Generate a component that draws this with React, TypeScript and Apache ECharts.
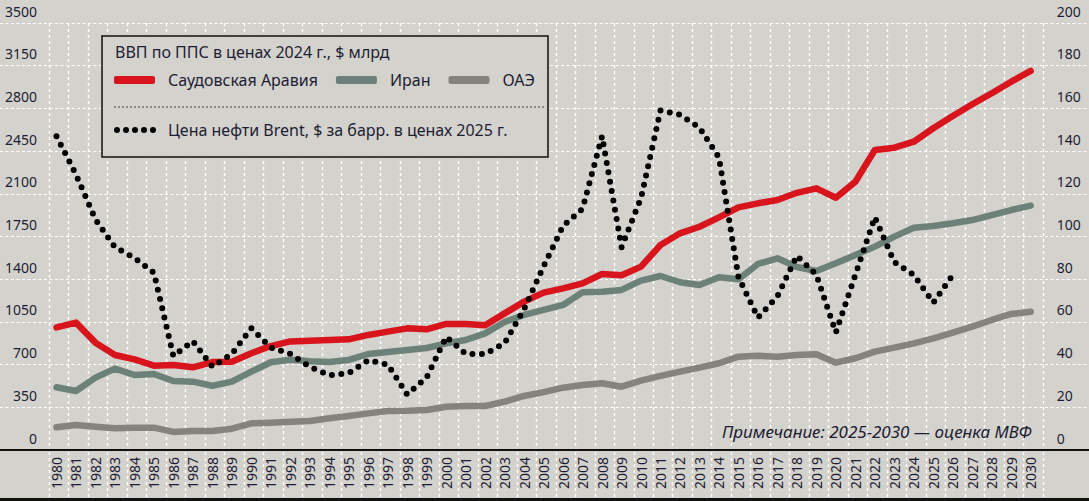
import { useEffect, useRef } from "react";
import * as echarts from "echarts";

const BG = "#d4d2cd";
const INK = "#1d1d33";
const FONT = "'Noto Sans', sans-serif";
const RED = "#d8151d";
const TEAL = "#6c8278";
const GREY = "#85837e";

const years = Array.from({ length: 51 }, (_, i) => String(1980 + i));

// ВВП по ППС, $ млрд (левая ось)
const saudi = [
    1005, 1044, 880, 779, 743, 691, 697, 678, 721, 724,
    793, 852, 890, 896, 902, 907, 943, 970, 997, 989,
    1033, 1033, 1022, 1120, 1216, 1290, 1325, 1366, 1443, 1432,
    1503, 1680, 1776, 1830, 1907, 1989, 2022, 2049, 2108, 2145,
    2068, 2199, 2459, 2478, 2527, 2637, 2738, 2834, 2924, 3019,
    3107,
];
const iran = [
    514, 484, 593, 667, 615, 623, 566, 560, 527, 560,
    642, 719, 740, 727, 721, 738, 787, 803, 820, 836,
    874, 902, 956, 1049, 1107, 1148, 1189, 1293, 1298, 1312,
    1388, 1426, 1375, 1353, 1416, 1399, 1525, 1571, 1500, 1467,
    1530, 1598, 1667, 1749, 1822, 1836, 1858, 1885, 1926, 1967,
    2003,
];
const uae = [
    186, 205, 191, 178, 183, 183, 148, 156, 156, 175,
    219, 224, 232, 238, 260, 279, 300, 320, 322, 328,
    355, 361, 361, 396, 443, 474, 511, 533, 547, 519,
    568, 607, 642, 675, 711, 765, 773, 765, 779, 784,
    716, 752, 806, 839, 874, 915, 962, 1011, 1066, 1115,
    1134,
];
// Brent, $ за барр. (правая ось)
const brent = [
    147, 129, 108, 95, 90, 83, 44, 51, 39, 45,
    57, 48, 45, 39, 35, 36, 42, 40, 26, 34,
    53, 45, 45, 50, 66, 86, 105, 113, 147, 95,
    118, 159, 157, 151, 137, 81, 62, 72, 91, 82,
    55, 82, 109, 88, 82, 69, 82, null, null, null,
    null,
];

const gdpAxis = { min: 0, max: 3500, step: 350 };
const oilAxis = { min: 0, max: 200, step: 20 };

const names = {
    saudi: "Саудовская Аравия",
    iran: "Иран",
    uae: "ОАЭ",
    brent: "Цена нефти Brent, $ за барр. в ценах 2025 г.",
};

const DOTS =
    "path://M0,3a3,3 0 1,0 6,0a3,3 0 1,0 -6,0M9,3a3,3 0 1,0 6,0a3,3 0 1,0 -6,0" +
    "M18,3a3,3 0 1,0 6,0a3,3 0 1,0 -6,0M27,3a3,3 0 1,0 6,0a3,3 0 1,0 -6,0" +
    "M36,3a3,3 0 1,0 6,0a3,3 0 1,0 -6,0";

const text = { fontFamily: FONT, color: INK };
const noAxis = {
    axisLine: { show: false },
    axisTick: { show: false },
    axisLabel: { show: false },
    splitLine: { show: false },
};

// вертикальная сетка смещена на ~0.385 шага влево от точек годов
const V_SHIFT = 0.385;
const LABEL_BAND = 49;

function App() {
    const ref = useRef<HTMLDivElement>(null);

    useEffect(() => {
        if (!ref.current) return;
        const chart = echarts.init(ref.current, undefined, { renderer: "svg" });

        const line = (name: string, data: (number | null)[], color: string) => ({
            name,
            type: "line",
            data,
            symbol: "none",
            color,
            itemStyle: { color },
            lineStyle: { width: 6.5, color, cap: "round", join: "round" },
            z: 3,
        });

        const vGrid = (params: any, api: any) => {
            const i = api.value(0);
            const [x, base] = api.coord([i, 0]);
            const top = api.coord([i, gdpAxis.max])[1];
            const step = api.size([1, 0])[0];
            const xs = [x - V_SHIFT * step];
            if (i === years.length - 1) xs.push(x + (1 - V_SHIFT) * step);
            const style = { stroke: "#ffffff", lineWidth: 1.4, lineDash: [3, 3] };
            const children: any[] = [];
            xs.forEach((xx) => {
                const px = Math.round(xx) + 0.5;
                children.push(
                    { type: "line", shape: { x1: px, y1: top, x2: px, y2: base - 1 }, style },
                    { type: "line", shape: { x1: px, y1: base + 2, x2: px, y2: base + LABEL_BAND - 2 }, style },
                );
            });
            return { type: "group", children };
        };

        chart.setOption({
            animation: false,
            backgroundColor: BG,
            textStyle: text,
            title: [
                {
                    text: "ВВП по ППС в ценах 2024 г., $ млрд",
                    left: 110,
                    top: 44,
                    padding: [0, 5],
                    textStyle: { ...text, fontSize: 16, fontWeight: "normal" },
                },
                {
                    text: "Примечание: 2025-2030 — оценка МВФ",
                    right: 57,
                    top: 423,
                    padding: 0,
                    textStyle: { ...text, fontSize: 17, fontStyle: "italic", fontWeight: "normal" },
                },
            ],
            legend: [
                {
                    data: [names.saudi, names.iran, names.uae],
                    left: 114,
                    top: 72,
                    padding: 0,
                    z: 8,
                    icon: "roundRect",
                    itemWidth: 41,
                    itemHeight: 8,
                    itemGap: 18,
                    selectedMode: false,
                    itemStyle: { borderWidth: 0 },
                    textStyle: { ...text, fontSize: 16, padding: [0, 0, 0, 8] },
                },
                {
                    data: [names.brent],
                    left: 114,
                    top: 122,
                    padding: 0,
                    z: 8,
                    icon: DOTS,
                    itemWidth: 42,
                    itemHeight: 6,
                    selectedMode: false,
                    itemStyle: { borderWidth: 0 },
                    textStyle: { ...text, fontSize: 16, padding: [0, 0, 0, 7] },
                },
            ],
            graphic: [
                {
                    type: "rect",
                    z: 3,
                    shape: { x: 102, y: 36, width: 446, height: 121 },
                    style: { fill: BG, stroke: "#111", lineWidth: 1.5 },
                },
                {
                    type: "line",
                    z: 4,
                    shape: { x1: 114, y1: 107, x2: 546, y2: 107 },
                    style: { stroke: "#444", lineWidth: 1, lineDash: [2, 2] },
                },
            ],
            grid: [
                { left: 56.5, right: 58.3, top: 23, bottom: 51 },
                { left: 0, right: 0, top: 23, bottom: 51 },
            ],
            xAxis: [
                {
                    type: "category",
                    gridIndex: 0,
                    data: years,
                    boundaryGap: false,
                    axisLine: { show: false },
                    axisTick: { show: false },
                    splitLine: { show: false },
                    axisLabel: { ...text, rotate: 90, interval: 0, margin: 7, fontSize: 14 },
                },
                {
                    ...noAxis,
                    type: "value",
                    gridIndex: 1,
                    min: 0,
                    max: 1,
                    axisLine: { show: true, lineStyle: { color: "#111", width: 2 } },
                },
                {
                    ...noAxis,
                    type: "value",
                    gridIndex: 1,
                    position: "bottom",
                    min: 0,
                    max: 1,
                    offset: LABEL_BAND,
                    axisLine: { show: true, lineStyle: { color: "#111", width: 3 } },
                },
            ],
            yAxis: [
                {
                    type: "value",
                    gridIndex: 0,
                    position: "left",
                    min: gdpAxis.min,
                    max: gdpAxis.max,
                    interval: gdpAxis.step,
                    axisLine: { show: false },
                    axisTick: { show: false },
                    splitLine: { show: false },
                    axisLabel: {
                        ...text,
                        fontSize: 14,
                        margin: 19.5,
                        verticalAlign: "bottom",
                        padding: [0, 0, 5, 0],
                        formatter: (v: number) => String(v),
                    },
                },
                {
                    type: "value",
                    gridIndex: 0,
                    position: "right",
                    min: oilAxis.min,
                    max: oilAxis.max,
                    interval: oilAxis.step,
                    axisLine: { show: false },
                    axisTick: { show: false },
                    splitLine: { show: false },
                    axisLabel: {
                        ...text,
                        fontSize: 14,
                        margin: 26,
                        align: "left",
                        verticalAlign: "bottom",
                        padding: [0, 0, 5, 0],
                        formatter: (v: number) => String(v),
                    },
                },
                {
                    ...noAxis,
                    type: "value",
                    gridIndex: 1,
                    min: 0,
                    max: 10,
                    interval: 1,
                    splitLine: {
                        show: true,
                        lineStyle: { color: "#ffffff", width: 1, type: [3, 2.5] },
                    },
                },
            ],
            series: [
                {
                    type: "custom",
                    xAxisIndex: 0,
                    yAxisIndex: 0,
                    silent: true,
                    z: 1,
                    clip: false,
                    data: years.map((_, i) => i),
                    renderItem: vGrid,
                },
                line(names.uae, uae, GREY),
                line(names.iran, iran, TEAL),
                line(names.saudi, saudi, RED),
                {
                    ...line(names.brent, brent, "#000000"),
                    yAxisIndex: 1,
                    z: 4,
                    lineStyle: { width: 6, color: "#000000", type: [0, 9.5], cap: "round", join: "round" },
                },
            ],
        });

        return () => {
            chart.dispose();
        };
    }, []);

    return (
        <div
            ref={ref}
            style={{ position: "fixed", left: 0, top: 0, width: "1089px", height: "501px" }}
        />
    );
}

export default App;
